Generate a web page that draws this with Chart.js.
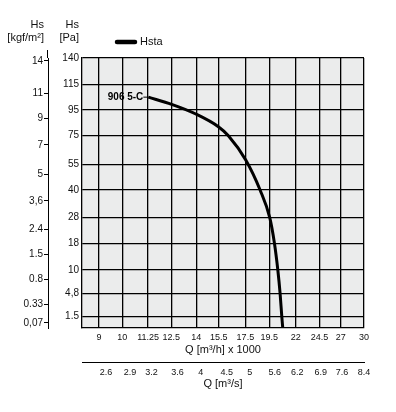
<!DOCTYPE html>
<html><head><meta charset="utf-8">
<script src="https://cdn.jsdelivr.net/npm/chart.js@4/dist/chart.umd.min.js"></script>
<style>html,body{margin:0;padding:0;background:#fff}#wrap{width:396px;height:412px}</style>
</head><body><div id="wrap"><canvas id="c" width="396" height="412"></canvas></div>
<script>
// ---- data ----
const flowTicks = [9, 10, 11.25, 12.5, 14, 15.5, 17.5, 19.5, 22, 24.5, 27, 30];
const flowTickLabels = ['9', '10', '11.25', '12.5', '14', '15.5', '17.5', '19.5', '22', '24.5', '27', '30'];
const flowSecTicks = [2.6, 2.9, 3.2, 3.6, 4, 4.5, 5, 5.6, 6.2, 6.9, 7.6, 8.4];
const flowSecTickLabels = ['2.6', '2.9', '3.2', '3.6', '4', '4.5', '5', '5.6', '6.2', '6.9', '7.6', '8.4'];
const paTicks = [140, 115, 95, 75, 55, 40, 28, 18, 10, 4.8, 1.5];
const paTickLabels = ['140', '115', '95', '75', '55', '40', '28', '18', '10', '4,8', '1.5'];
const kgfTicks = [14, 11, 9, 7, 5, 3.6, 2.4, 1.5, 0.8, 0.33, 0.07];
const kgfTickLabels = ['14', '11', '9', '7', '5', '3,6', '2.4', '1.5', '0.8', '0.33', '0,07'];
const seriesName = 'Hsta';
const curveName = '906 5-C';
const hstaQ = [11.26, 12.52, 13.97, 15.48, 16.2, 17.53, 18.71, 19.55, 19.97, 20.28, 20.49, 20.65, 20.74];
const hstaPa = [105, 99.4, 91.9, 82.0, 75, 58.0, 40, 28, 18, 10, 4.8, 1.5, 0];

// ---- non-uniform pressure scale of the original diagram (value in Pa -> fraction of height) ----
const paScaleBreaks = [[0, 0], [1.5, 0.042], [4.8, 0.1285], [10, 0.2148], [18, 0.3137], [28, 0.4085],
  [40, 0.5111], [55, 0.6063], [75, 0.7122], [95, 0.8074], [115, 0.9026], [140, 1]];

class PiecewiseScale extends Chart.LinearScale {
  static id = 'piecewise';
  _frac(v) {
    const b = this.options.breaks;
    if (v <= b[0][0]) return b[0][1];
    for (let i = 1; i < b.length; i++) {
      if (v <= b[i][0]) {
        const t = (v - b[i - 1][0]) / (b[i][0] - b[i - 1][0]);
        return b[i - 1][1] + t * (b[i][1] - b[i - 1][1]);
      }
    }
    return b[b.length - 1][1];
  }
  getPixelForValue(value) {
    if (value === null || value === undefined || isNaN(value)) return NaN;
    const f = this.options.factor || 1;
    return this.getPixelForDecimal(this._frac(value * f));
  }
  getValueForPixel(pixel) {
    const d = this.getDecimalForPixel(pixel);
    const b = this.options.breaks;
    const f = this.options.factor || 1;
    for (let i = 1; i < b.length; i++) {
      if (d <= b[i][1]) {
        const t = (d - b[i - 1][1]) / (b[i][1] - b[i - 1][1]);
        return (b[i - 1][0] + t * (b[i][0] - b[i - 1][0])) / f;
      }
    }
    return b[b.length - 1][0] / f;
  }
}
Chart.register(PiecewiseScale);

const KGF = 9.80665;
const ink = '#000';
const tickFont = {family: 'Arial, "Liberation Sans", sans-serif', size: 10};
const narrowFont = {family: '"Liberation Sans Narrow", "Arial Narrow", "Liberation Sans", Arial, sans-serif', size: 9};
const titleFont = {family: 'Arial, "Liberation Sans", sans-serif', size: 11};

const decor = {
  id: 'decor',
  beforeDraw(chart) {
    const {ctx, chartArea: a} = chart;
    ctx.save();
    ctx.fillStyle = '#ebecec';
    ctx.fillRect(a.left, a.top, a.right - a.left, a.bottom - a.top);
    ctx.restore();
  },
  afterDraw(chart) {
    const {ctx, chartArea: a, scales} = chart;
    ctx.save();
    // kgf axis line reaches a little above the plot
    ctx.strokeStyle = '#000';
    ctx.lineWidth = 1;
    const bx = Math.round(scales.y2.right) - 0.5;
    ctx.beginPath(); ctx.moveTo(bx, a.top - 8); ctx.lineTo(bx, a.top); ctx.stroke();
    ctx.fillStyle = '#111';
    ctx.textBaseline = 'middle';
    ctx.textAlign = 'right';
    ctx.font = '11px Arial, "Liberation Sans", sans-serif';
    const xk = scales.y2.right - 4, xp = scales.y.right - 3;
    ctx.fillText('Hs', xk, a.top - 33);
    ctx.fillText('[kgf/m²]', xk, a.top - 20);
    ctx.fillText('Hs', xp, a.top - 33);
    ctx.fillText('[Pa]', xp, a.top - 20);
    // legend
    const ly = a.top - 16;
    ctx.lineWidth = 4.5;
    ctx.lineCap = 'round';
    ctx.beginPath();
    ctx.moveTo(a.left + 35, ly); ctx.lineTo(a.left + 53, ly);
    ctx.stroke();
    ctx.textAlign = 'left';
    ctx.fillText(chart.data.datasets[0].label, a.left + 58, ly);
    // curve name
    const p = chart.getDatasetMeta(0).data[0];
    ctx.font = 'bold 10px Arial, "Liberation Sans", sans-serif';
    ctx.textAlign = 'right';
    ctx.fillStyle = '#000';
    ctx.fillText(curveName, p.x - 5, p.y);
    ctx.lineWidth = 1; ctx.lineCap = 'butt';
    ctx.beginPath(); ctx.moveTo(p.x - 5, p.y); ctx.lineTo(p.x, p.y); ctx.stroke();
    ctx.restore();
  }
};

new Chart(document.getElementById('c'), {
  type: 'line',
  data: {
    datasets: [{
      label: seriesName,
      data: hstaQ.map((q, i) => ({x: q, y: hstaPa[i]})),
      borderColor: ink,
      borderWidth: 3,
      pointRadius: 0,
      cubicInterpolationMode: 'monotone',
      xAxisID: 'x', yAxisID: 'y'
    }]
  },
  options: {
    responsive: false,
    animation: false,
    devicePixelRatio: 1,
    layout: {padding: {left: 0, right: 32, top: 58, bottom: 21}},
    plugins: {legend: {display: false}, tooltip: {enabled: false}},
    scales: {
      x: {
        type: 'logarithmic', position: 'bottom', min: 8.33, max: 30,
        afterBuildTicks: s => { s.ticks = flowTicks.map(v => ({value: v})); },
        afterFit: s => { s.height = 34; },
        ticks: {callback: (v, i) => flowTickLabels[i], font: narrowFont, color: '#111', padding: 4, maxRotation: 0, autoSkip: false},
        grid: {color: ink, lineWidth: 1.3, drawTicks: false},
        border: {color: ink, width: 1.3},
        title: {display: true, text: 'Q [m³/h] x 1000', font: titleFont, color: '#111', padding: {top: 0, bottom: 5}}
      },
      x2: {
        type: 'logarithmic', position: 'bottom', min: 8.4 * 8.33 / 30, max: 8.4,
        afterBuildTicks: s => { s.ticks = flowSecTicks.map(v => ({value: v})); },
        afterFit: s => { s.height = 29; },
        ticks: {callback: (v, i) => flowSecTickLabels[i], font: narrowFont, color: '#111', padding: 5, maxRotation: 0, autoSkip: false},
        grid: {display: false, drawTicks: false},
        border: {display: true, color: ink, width: 1},
        title: {display: true, text: 'Q [m³/s]', font: titleFont, color: '#111', padding: {top: 0, bottom: 0}}
      },
      y: {
        type: 'piecewise', position: 'left', min: 0, max: 140, weight: 0,
        breaks: paScaleBreaks,
        afterBuildTicks: s => { s.ticks = paTicks.map(v => ({value: v})); },
        afterFit: s => { s.width = 34; },
        ticks: {callback: (v, i) => paTickLabels[i], font: tickFont, color: '#111', padding: 3, autoSkip: false},
        grid: {color: ink, lineWidth: 1.3, drawTicks: false},
        border: {color: ink, width: 1.3}
      },
      y2: {
        type: 'piecewise', position: 'left', min: 0, max: 140 / KGF, weight: 1,
        breaks: paScaleBreaks, factor: KGF,
        afterBuildTicks: s => { s.ticks = kgfTicks.map(v => ({value: v})); },
        afterFit: s => { s.width = 48; },
        ticks: {callback: (v, i) => kgfTickLabels[i], font: tickFont, color: '#111', padding: 1, autoSkip: false},
        grid: {drawOnChartArea: false, drawTicks: true, tickLength: 4, tickColor: ink, tickWidth: 1},
        border: {color: ink, width: 1}
      }
    }
  },
  plugins: [decor]
});
</script>
</body></html>
